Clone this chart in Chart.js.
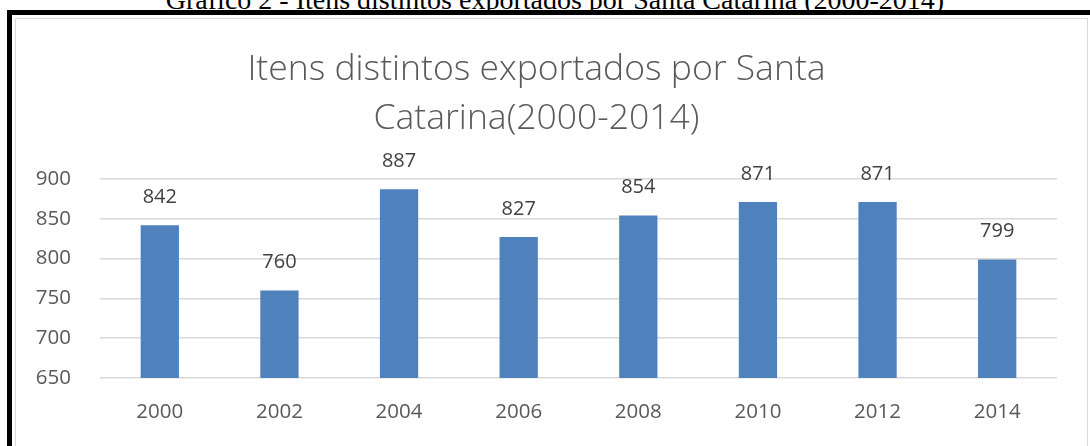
<!DOCTYPE html>
<html>
<head>
<meta charset="utf-8">
<script src="https://cdn.jsdelivr.net/npm/chart.js@4.4.1/dist/chart.umd.min.js"></script>
<style>
  html, body { margin: 0; padding: 0; background: #fff; overflow: hidden; }
  body { width: 1090px; height: 446px; position: relative; }
  #caption {
    position: absolute; left: 0; width: 1110px; top: -14px;
    text-align: center; font-family: "Liberation Serif", serif;
    font-size: 28px; line-height: 28px; color: #000; white-space: nowrap;
  }
  #frame {
    position: absolute; left: 7px; top: 10px; width: 1100px; height: 460px;
    border: 5px solid #000; box-sizing: border-box;
  }
  #chartBox {
    position: absolute; left: 15px; top: 18px; width: 1073px; height: 440px;
    border: 1px solid #d9d9d9; box-sizing: border-box; background: #fff;
  }
  #chartBox canvas { position: absolute; left: 0; top: 0; }
</style>
</head>
<body>
<div id="caption">Gráfico 2 - Itens distintos exportados por Santa Catarina (2000-2014)</div>
<div id="frame"></div>
<div id="chartBox"><canvas id="itensChart" width="1071" height="428"></canvas></div>
<script>
// Chart data
const years = ['2000', '2002', '2004', '2006', '2008', '2010', '2012', '2014'];
const itens = [842, 760, 887, 827, 854, 871, 871, 799];
const yTicks = [650, 700, 750, 800, 850, 900];

const labelFont = '"Open Sans", "Liberation Sans", sans-serif';

// Value labels above each bar
const barValues = {
    id: 'barValues',
    afterDatasetsDraw(chart) {
        const ctx = chart.ctx;
        const meta = chart.getDatasetMeta(0);
        ctx.save();
        ctx.font = '20px ' + labelFont;
        ctx.fillStyle = '#404040';
        ctx.textAlign = 'center';
        ctx.textBaseline = 'middle';
        meta.data.forEach(function(bar, i) {
            ctx.fillText(String(itens[i]), bar.x, bar.y - 28);
        });
        ctx.restore();
    }
};

const ctx = document.getElementById('itensChart').getContext('2d');
new Chart(ctx, {
    type: 'bar',
    data: {
        labels: years,
        datasets: [{
            data: itens,
            backgroundColor: '#4f81bd',
            borderWidth: 0,
            barPercentage: 0.32,
            categoryPercentage: 1
        }]
    },
    options: {
        responsive: false,
        animation: false,
        layout: { padding: { left: 0, right: 30, top: 0, bottom: 0 } },
        plugins: {
            legend: { display: false },
            tooltip: { enabled: false },
            title: {
                display: true,
                text: ['Itens distintos exportados por Santa', 'Catarina(2000-2014)'],
                color: '#595959',
                font: { family: labelFont, size: 35.5, weight: '300', lineHeight: 1.38 },
                padding: { top: 26, bottom: 36 }
            }
        },
        scales: {
            x: {
                grid: { display: false },
                border: { display: false },
                ticks: { color: '#595959', font: { family: labelFont, size: 20.5 }, padding: 14 },
                afterFit(scale) { scale.height = 69; }
            },
            y: {
                min: 650,
                max: 900,
                afterBuildTicks(scale) { scale.ticks = yTicks.map(v => ({ value: v })); },
                grid: { color: '#d9d9d9', lineWidth: 1.5, drawTicks: false },
                border: { display: false },
                ticks: { color: '#595959', font: { family: labelFont, size: 20.5 }, padding: 29 },
                afterFit(scale) { scale.width = 84; }
            }
        }
    },
    plugins: [barValues]
});
</script>
</body>
</html>
